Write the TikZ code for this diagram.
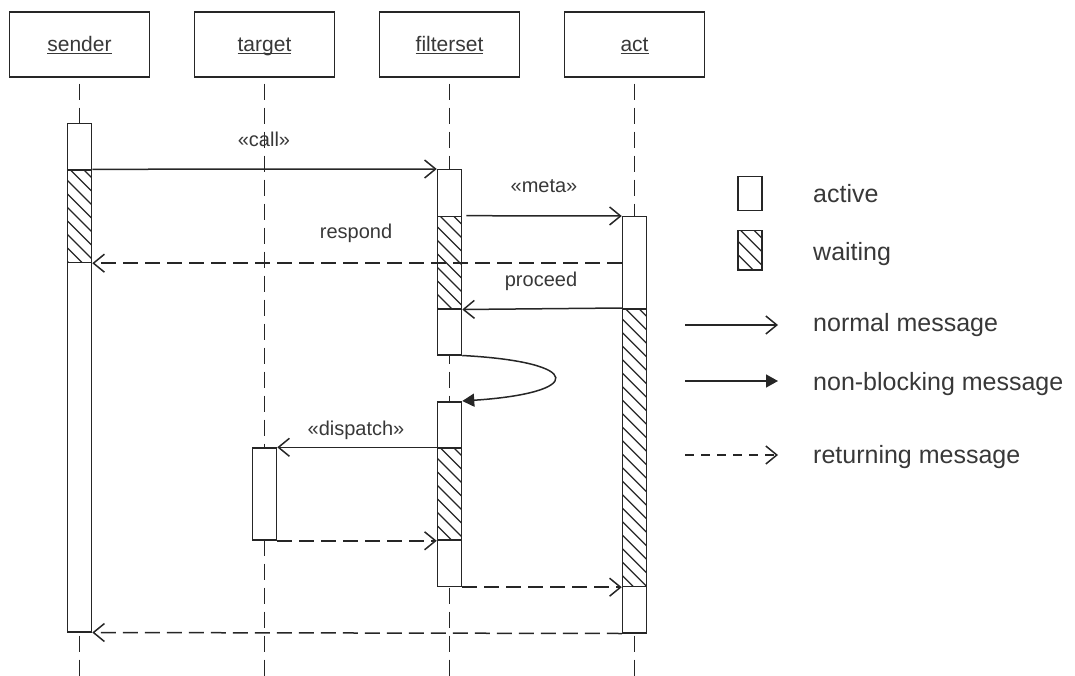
\documentclass[tikz,border=0pt]{standalone}
\usepackage{fontspec}
\setmainfont{Liberation Sans}
\usetikzlibrary{arrows.meta}
\newcommand\objname[1]{\underline{\smash{#1}}}
\begin{document}
\begin{tikzpicture}[x=1pt,y=-1pt,
  ink/.style={draw=black!85, line width=1.5pt},
  head/.style={ink, line width=1.7pt, rectangle, minimum width=140pt, minimum height=65pt,
    text height=17pt, text depth=2pt, inner sep=0pt, font=\fontsize{21}{25}\selectfont, text=black!78},
  lifeline/.style={draw=black!85, line width=1.5pt, dash pattern=on 16pt off 8pt},
  bar/.style={ink, fill=white, rectangle, minimum width=24pt, inner sep=0pt, anchor=north},
  wait/.style={bar, path picture={
      \foreach \k in {0,1,...,30}
        \draw[black!85, line width=1.2pt]
          ([yshift=-\k*13.5pt+30pt]path picture bounding box.north west) -- ++(40pt,-40pt);}},
  lbl/.style={font=\fontsize{20}{24}\selectfont, text=black!78, inner sep=0pt, anchor=base},
  leg/.style={font=\fontsize{25}{30}\selectfont, text=black!78, inner sep=0pt, anchor=base west},
  open/.style={-{Straight Barb[length=11pt,width=18pt]}},
  nonblock/.style={-{Triangle[length=12pt,width=13pt]}},
  ret/.style={dash pattern=on 15pt off 7pt},
]
\useasboundingbox (0,0) rectangle (1075,676);
\coordinate (bottom) at (0,676);

% object headers
\node[head] (sender)    at (79.5,44.2)  {\objname{sender}};
\node[head] (target)    at (264.5,44.2) {\objname{target}};
\node[head] (filterset) at (449.5,44.2) {\objname{filterset}};
\node[head] (act)       at (634.5,44.2) {\objname{act}};

% lifelines
\foreach \o in {sender,target,filterset,act}
  \draw[lifeline] ([yshift=-6pt]\o.south) -- (\o.south |- bottom);

% activation bars
\node[bar,  minimum height=508.3pt] (sbar)   at (79.5,122.7) {};
\node[wait, minimum height=92.4pt]  (swait)  at (79.5,169.3) {};
\node[bar,  minimum height=185pt]   (fbar1)  at (449.5,169) {};
\node[wait, minimum height=92.3pt]  (fwait1) at (449.5,215.7) {};
\node[bar,  minimum height=184.7pt] (fbar2)  at (449.5,401) {};
\node[wait, minimum height=92pt]    (fwait2) at (449.5,447.3) {};
\node[bar,  minimum height=92pt]    (tbar)   at (264.5,447.3) {};
\node[bar,  minimum height=416pt]   (abar)   at (634.5,216) {};
\node[wait, minimum height=277.7pt] (await)  at (634.5,308) {};

% messages
\draw[ink, open] (swait.north east) -- (fbar1.north west);
\draw[ink, open] ([xshift=4pt]fwait1.north east) -- (abar.north west);
\draw[ink, open, ret] (swait.south east -| abar.west) -- (swait.south east);
\draw[ink, open] (await.north west) -- (fwait1.south east);
\draw[ink, nonblock] (fbar1.south east) .. controls (585,362) and (585,393) .. (fbar2.north east);
\draw[ink, open] (fwait2.north west) -- (tbar.north east);
\draw[ink, open, ret] (tbar.south east) -- (fwait2.south west);
\draw[ink, open, ret] (fbar2.south east) -- (await.south west);
\draw[ink, open, ret] (abar.south west) -- (sbar.south east);

% message labels
\node[lbl] (lcall)     at (264,146.7) {«call»};
\node[lbl] (lmeta)     at (544,193)   {«meta»};
\node[lbl] (lrespond)  at (356,238)   {respond};
\node[lbl] (lproceed)  at (541,286.7) {proceed};
\node[lbl] (ldispatch) at (356,435)   {«dispatch»};

% legend
\node[bar,  minimum height=34pt] (lgact)  at (750,176) {};
\node[wait, minimum height=39pt] (lgwait) at (750,230) {};
\node[leg] (tact)  at (813,203) {active};
\node[leg] (twait) at (813,260) {waiting};

\coordinate (n0) at (685,325); \coordinate (n1) at (778,325);
\coordinate (b0) at (685,381); \coordinate (b1) at (778,381);
\coordinate (r0) at (685,455); \coordinate (r1) at (778,455);
\draw[ink, open] (n0) -- (n1);
\draw[ink, nonblock] (b0) -- (b1);
\draw[ink, open, dash pattern=on 9pt off 7pt] (r0) -- (r1);
\node[leg] (tnormal) at (813,331.7) {normal message};
\node[leg] (tnonblk) at (813,390)   {non-blocking message};
\node[leg] (treturn) at (813,463)   {returning message};
\end{tikzpicture}
\end{document}
